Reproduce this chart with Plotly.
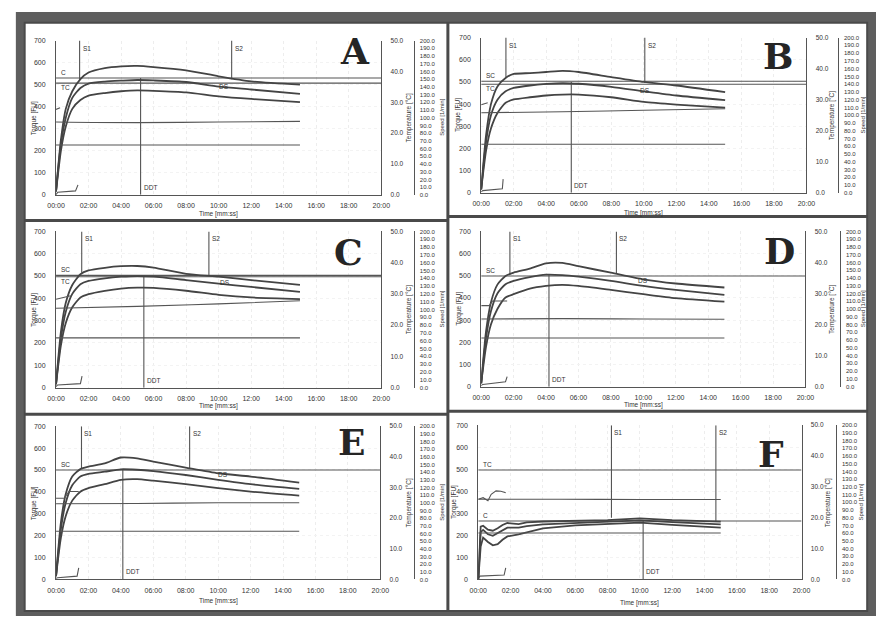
import plotly.graph_objects as go

W, H = 885, 621

# ---------------- data ----------------
T = [0, 0.3, 0.6, 1, 1.5, 2, 3, 4, 5, 6, 8, 10, 12, 15]
F_T = [0, 0.15, 0.3, 0.6, 0.9, 1.2, 1.5, 1.8, 2.5, 3, 4, 6, 8, 10, 12, 15]
TEMP_T = [0, 5, 10, 15]
SPEED_T = [0, 15]
REF_T = [0, 20]

A_UPPER = [15, 250, 390, 470, 525, 555, 575, 583, 585, 580, 565, 538, 515, 500]
A_MIDDLE = [15, 230, 350, 440, 485, 505, 514, 518, 521, 519, 512, 491, 478, 458]
A_LOWER = [15, 200, 310, 390, 430, 450, 462, 470, 474, 472, 465, 447, 435, 421]

B_UPPER = [15, 260, 400, 480, 518, 536, 540, 545, 550, 545, 522, 500, 484, 454]
B_MIDDLE = [15, 230, 350, 420, 458, 473, 484, 491, 495, 492, 478, 458, 439, 418]
B_LOWER = [15, 190, 290, 360, 406, 421, 431, 439, 443, 443, 431, 410, 398, 384]

C_UPPER = [15, 250, 380, 460, 508, 525, 537, 544, 545, 538, 510, 497, 482, 460]
C_MIDDLE = [15, 220, 340, 420, 463, 478, 490, 497, 500, 497, 482, 466, 451, 429]
C_LOWER = [15, 190, 290, 360, 404, 419, 434, 444, 448, 447, 434, 416, 404, 397]

D_UPPER = [15, 250, 380, 460, 499, 514, 532, 556, 558, 543, 514, 484, 465, 447]
D_MIDDLE = [15, 220, 340, 420, 462, 477, 494, 505, 503, 496, 477, 454, 436, 414]
D_LOWER = [15, 180, 280, 350, 402, 417, 442, 454, 459, 454, 436, 417, 399, 383]

E_UPPER = [15, 260, 390, 470, 504, 515, 530, 557, 553, 538, 511, 485, 470, 442]
E_MIDDLE = [15, 230, 350, 430, 470, 482, 492, 503, 501, 495, 477, 455, 435, 414]
E_LOWER = [15, 190, 290, 360, 401, 417, 435, 455, 458, 451, 435, 417, 401, 383]

F_UPPER = [0, 240, 244, 226, 221, 232, 247, 256, 251, 259, 263, 265, 269, 277, 269, 262]
F_MIDDLE = [0, 215, 225, 205, 198, 210, 222, 235, 235, 242, 250, 257, 262, 268, 260, 250]
F_LOWER = [0, 150, 190, 170, 155, 160, 180, 195, 205, 215, 232, 245, 250, 258, 248, 235]

# temperature traces [°C]
A_TEMP = [23.6, 23.4, 23.6, 23.8]
B_TEMP = [25.8, 26.1, 26.6, 27.1]
C_TEMP = [25.4, 26.0, 26.8, 27.8]
D_TEMP = [21.8, 21.9, 21.8, 21.7]
E_TEMP = [24.7, 24.8, 25.0, 25.0]
F_TEMP = [26.0, 26.0, 25.9, 25.9]

# start of temperature probe traces
A_PROBE_T, A_PROBE = [0, 0.25], [27.7, 28.2]
B_PROBE_T, B_PROBE = [0, 0.4], [28.4, 29.0]
C_PROBE_T, C_PROBE = [0, 0.9], [28.3, 29.4]
D_PROBE_T, D_PROBE = [0, 0.5, 0.7, 1.6], [26.1, 26.1, 27.6, 27.6]
E_PROBE_T, E_PROBE = [0, 0.5, 0.8, 1.4], [26.5, 26.5, 28.7, 28.7]
F_PROBE_T, F_PROBE = [0, 0.3, 0.6, 0.8, 1.1, 1.4, 1.7], [26.0, 26.5, 25.5, 27.6, 28.7, 28.6, 28.1]

# speed traces [1/min]
A_SPEED = [64.6, 64.6]
B_SPEED = [62.6, 62.6]
C_SPEED = [63.7, 63.7]
D_SPEED = [62.6, 62.6]
E_SPEED = [62.9, 62.9]
F_SPEED = [60.3, 60.3]

# water dosing traces [FU]
A_DOSE_T, A_DOSE = [0, 0.1, 1.2, 1.35], [0, 12, 18, 45]
B_DOSE_T, B_DOSE = [0, 0.1, 1.3, 1.35], [5, 10, 18, 62]
C_DOSE_T, C_DOSE = [0, 0.1, 1.5, 1.6], [5, 12, 18, 52]
D_DOSE_T, D_DOSE = [0, 0.1, 1.5, 1.6], [5, 10, 22, 45]
E_DOSE_T, E_DOSE = [0, 0.1, 1.3, 1.4], [5, 8, 15, 53]
F_DOSE_T, F_DOSE = [0, 0.1, 1.6, 1.7], [5, 15, 20, 53]

# horizontal reference lines [FU] and their labels
A_REF, A_REF_LABELS = [530, 507], ["C", "TC"]
B_REF, B_REF_LABELS = [503, 490], ["SC", "TC"]
C_REF, C_REF_LABELS = [503, 497], ["SC", "TC"]
D_REF, D_REF_LABELS = [499], ["SC"]
E_REF, E_REF_LABELS = [500], ["SC"]
F_REF, F_REF_LABELS = [497, 265], ["TC", "C"]

# markers: (label, time [min], top, bottom)
A_MARKS = [("S1", 1.45, 700, 520), ("DDT", 5.2, 530, 0), ("S2", 10.8, 700, 525)]
B_MARKS = [("S1", 1.52, 700, 520), ("DDT", 5.54, 500, 0), ("S2", 10.06, 700, 495)]
C_MARKS = [("S1", 1.58, 700, 515), ("DDT", 5.4, 500, 0), ("S2", 9.4, 700, 500)]
D_MARKS = [("S1", 1.77, 700, 505), ("DDT", 4.18, 508, 0), ("S2", 8.34, 700, 510)]
E_MARKS = [("S1", 1.57, 700, 505), ("DDT", 4.12, 505, 0), ("S2", 8.24, 700, 505)]
F_MARKS = [("S1", 8.24, 700, 280), ("DDT", 10.2, 265, 0), ("S2", 14.7, 700, 262)]

# stability label position (time, torque)
A_DS, B_DS, C_DS, D_DS, E_DS, F_DS = (10.3, 492), (10.1, 462), (10.4, 470), (10.0, 478), (10.3, 478), None

LETTERS = ["A", "B", "C", "D", "E", "F"]
TIME_TICKS = list(range(0, 21, 2))
TIME_LABELS = ["%02d:00" % v for v in TIME_TICKS]
TORQUE_TICKS = list(range(0, 701, 100))
TEMP_TICKS = list(range(0, 51, 10))
SPEED_TICKS = list(range(0, 201, 10))

PANELS = [
    dict(t=T, curves=[A_UPPER, A_MIDDLE, A_LOWER], temp=A_TEMP, probe=(A_PROBE_T, A_PROBE), speed=A_SPEED,
         dose=(A_DOSE_T, A_DOSE), ref=(A_REF, A_REF_LABELS), marks=A_MARKS, ds=A_DS, shape="spline"),
    dict(t=T, curves=[B_UPPER, B_MIDDLE, B_LOWER], temp=B_TEMP, probe=(B_PROBE_T, B_PROBE), speed=B_SPEED,
         dose=(B_DOSE_T, B_DOSE), ref=(B_REF, B_REF_LABELS), marks=B_MARKS, ds=B_DS, shape="spline"),
    dict(t=T, curves=[C_UPPER, C_MIDDLE, C_LOWER], temp=C_TEMP, probe=(C_PROBE_T, C_PROBE), speed=C_SPEED,
         dose=(C_DOSE_T, C_DOSE), ref=(C_REF, C_REF_LABELS), marks=C_MARKS, ds=C_DS, shape="spline"),
    dict(t=T, curves=[D_UPPER, D_MIDDLE, D_LOWER], temp=D_TEMP, probe=(D_PROBE_T, D_PROBE), speed=D_SPEED,
         dose=(D_DOSE_T, D_DOSE), ref=(D_REF, D_REF_LABELS), marks=D_MARKS, ds=D_DS, shape="spline"),
    dict(t=T, curves=[E_UPPER, E_MIDDLE, E_LOWER], temp=E_TEMP, probe=(E_PROBE_T, E_PROBE), speed=E_SPEED,
         dose=(E_DOSE_T, E_DOSE), ref=(E_REF, E_REF_LABELS), marks=E_MARKS, ds=E_DS, shape="spline"),
    dict(t=F_T, curves=[F_UPPER, F_MIDDLE, F_LOWER], temp=F_TEMP, probe=(F_PROBE_T, F_PROBE), speed=F_SPEED,
         dose=(F_DOSE_T, F_DOSE), ref=(F_REF, F_REF_LABELS), marks=F_MARKS, ds=F_DS, shape="linear"),
]

# ---------------- layout geometry (pixels) ----------------
GEOM = [
    dict(x0=48, x1=380, top=37, bot=193, spd=413, letter=(353, 48), ttl_y=212, tq_x=25, tp_x=408, sp_x=442),
    dict(x0=482, x1=814, top=34, bot=191, spd=846, letter=(785, 53), ttl_y=211, tq_x=459, tp_x=840, sp_x=872),
    dict(x0=48, x1=380, top=230, bot=388, spd=413, letter=(347, 251), ttl_y=407, tq_x=25, tp_x=408, sp_x=442),
    dict(x0=482, x1=813, top=230, bot=387, spd=848, letter=(787, 250), ttl_y=406, tq_x=459, tp_x=840, sp_x=872),
    dict(x0=48, x1=379, top=427, bot=582, spd=413, letter=(350, 443), ttl_y=604, tq_x=25, tp_x=408, sp_x=442),
    dict(x0=479, x1=809, top=426, bot=582, spd=844, letter=(778, 455), ttl_y=606, tq_x=455, tp_x=836, sp_x=870),
]

INK = "#333333"
CURVE = "#444444"
LINE = "#555555"
FONT = "Liberation Sans, Arial, sans-serif"


def px(x):
    return x / W


def py(y):
    return 1 - y / H


fig = go.Figure()
layout = dict(width=W, height=H, margin=dict(l=0, r=0, t=0, b=0, pad=0),
              paper_bgcolor="white", plot_bgcolor="rgba(0,0,0,0)", showlegend=False,
              font=dict(family=FONT, size=7, color=INK))
annotations = []
shapes = []


def paper_text(x, y, text, angle=0, font=None):
    return dict(x=px(x), y=py(y), xref="paper", yref="paper", text=text, textangle=angle,
                showarrow=False, xanchor="center", yanchor="middle",
                font=font or dict(size=6.5, color=INK))


# scanned page frame
shapes.append(dict(type="rect", xref="paper", yref="paper", x0=px(7), x1=px(885), y0=py(619), y1=py(8),
                   fillcolor="#5e5e5e", line=dict(width=0), layer="below"))
shapes.append(dict(type="rect", xref="paper", yref="paper", x0=px(16), x1=px(876), y0=py(614), y1=py(19),
                   fillcolor="white", line=dict(color="#4a4a4a", width=2), layer="below"))
for (xa, ya, xb, yb) in [(448, 19, 448, 614), (16, 219, 448, 219), (448, 215, 876, 215),
                         (16, 415, 448, 415), (448, 412, 876, 412)]:
    shapes.append(dict(type="line", xref="paper", yref="paper", x0=px(xa), y0=py(ya), x1=px(xb), y1=py(yb),
                       line=dict(color="#4a4a4a", width=3), layer="below"))

for i, (p, g) in enumerate(zip(PANELS, GEOM)):
    n = i + 1
    xk = "xaxis" if n == 1 else "xaxis%d" % n
    xid = "x" if n == 1 else "x%d" % n
    ytq, ytp, ysp = 3 * i + 1, 3 * i + 2, 3 * i + 3
    yid = lambda k: "y" if k == 1 else "y%d" % k
    yk = lambda k: "yaxis" if k == 1 else "yaxis%d" % k

    layout[xk] = dict(domain=[px(g["x0"]), px(g["x1"])], anchor=yid(ytq), range=[0, 20],
                      tickvals=TIME_TICKS, ticktext=TIME_LABELS, showline=True, linecolor=LINE, linewidth=1,
                      ticks="outside", ticklen=4, tickcolor="rgba(0,0,0,0)",
                      showgrid=True, gridcolor="#ededed", griddash="dot", zeroline=False,
                      tickfont=dict(size=7, color=INK))
    layout[yk(ytq)] = dict(domain=[py(g["bot"]), py(g["top"])], anchor=xid, range=[0, 700],
                           tickvals=TORQUE_TICKS, showline=True, linecolor=LINE, linewidth=1,
                           ticks="outside", ticklen=8, tickcolor="rgba(0,0,0,0)",
                           showgrid=True, gridcolor="#f3f3f3", griddash="dot", zeroline=False,
                           tickfont=dict(size=7, color=INK))
    layout[yk(ytp)] = dict(overlaying=yid(ytq), anchor=xid, side="right", range=[0, 50],
                           tickvals=TEMP_TICKS, ticktext=["%.1f" % v for v in TEMP_TICKS],
                           showline=True, linecolor=LINE, linewidth=1,
                           ticks="outside", ticklen=7, tickcolor="rgba(0,0,0,0)",
                           showgrid=False, zeroline=False, tickfont=dict(size=6.5, color=INK))
    layout[yk(ysp)] = dict(overlaying=yid(ytq), anchor="free", position=px(g["spd"]), side="right",
                           range=[0, 200], tickvals=SPEED_TICKS, ticktext=["%.1f" % v for v in SPEED_TICKS],
                           showline=True, linecolor=LINE, linewidth=1,
                           ticks="outside", ticklen=4, tickcolor="rgba(0,0,0,0)",
                           showgrid=False, zeroline=False, tickfont=dict(size=6, color=INK))

    # reference lines
    refs = list(zip(p["ref"][0], p["ref"][1]))
    for j, (lvl, lab) in enumerate(refs):
        fig.add_trace(go.Scatter(x=REF_T, y=[lvl, lvl], mode="lines", xaxis=xid, yaxis=yid(ytq),
                                 line=dict(color=LINE, width=1.1), hoverinfo="skip"))
        above = (j == 0) or (abs(lvl - refs[0][0]) > 100)
        annotations.append(dict(x=0.2, y=lvl, xref=xid, yref=yid(ytq), text=lab, showarrow=False,
                                xanchor="left", yanchor="bottom" if above else "top",
                                yshift=0 if above else 1, font=dict(size=6.5, color=INK)))
    # temperature + speed
    fig.add_trace(go.Scatter(x=TEMP_T, y=p["temp"], mode="lines", xaxis=xid, yaxis=yid(ytp),
                             line=dict(color=LINE, width=1.1, shape="spline"), hoverinfo="skip"))
    fig.add_trace(go.Scatter(x=p["probe"][0], y=p["probe"][1], mode="lines", xaxis=xid, yaxis=yid(ytp),
                             line=dict(color=LINE, width=1.1), hoverinfo="skip"))
    fig.add_trace(go.Scatter(x=SPEED_T, y=p["speed"], mode="lines", xaxis=xid, yaxis=yid(ysp),
                             line=dict(color=LINE, width=1.1), hoverinfo="skip"))
    # dosing
    fig.add_trace(go.Scatter(x=p["dose"][0], y=p["dose"][1], mode="lines", xaxis=xid, yaxis=yid(ytq),
                             line=dict(color=LINE, width=1.1), hoverinfo="skip"))
    # markers
    for lab, tm, top, bot in p["marks"]:
        fig.add_trace(go.Scatter(x=[tm, tm], y=[top, bot], mode="lines", xaxis=xid, yaxis=yid(ytq),
                                 line=dict(color=LINE, width=1.1), hoverinfo="skip"))
        if lab == "DDT":
            annotations.append(dict(x=tm, y=bot, xref=xid, yref=yid(ytq), text=lab, showarrow=False,
                                    xanchor="left", yanchor="bottom", xshift=1, yshift=2,
                                    font=dict(size=6.5, color=INK)))
        else:
            annotations.append(dict(x=tm, y=top, xref=xid, yref=yid(ytq), text=lab, showarrow=False,
                                    xanchor="left", yanchor="top", xshift=1, yshift=-2,
                                    font=dict(size=6.5, color=INK)))
    if p["ds"]:
        annotations.append(dict(x=p["ds"][0], y=p["ds"][1], xref=xid, yref=yid(ytq), text="DS",
                                showarrow=False, xanchor="center", yanchor="middle",
                                font=dict(size=6.5, color=INK)))
    # torque curves
    for c in p["curves"]:
        fig.add_trace(go.Scatter(x=p["t"], y=c, mode="lines", xaxis=xid, yaxis=yid(ytq),
                                 line=dict(color=CURVE, width=1.8, shape=p["shape"], smoothing=0.6),
                                 hoverinfo="skip"))

    # titles and letter
    mid = (g["top"] + g["bot"]) / 2
    annotations.append(paper_text((g["x0"] + g["x1"]) / 2, g["ttl_y"], "Time [mm:ss]"))
    annotations.append(paper_text(g["tq_x"], mid, "Torque [FU]", -90))
    annotations.append(paper_text(g["tp_x"], mid, "Temperature [°C]", -90))
    annotations.append(paper_text(g["sp_x"], mid, "Speed [1/min]", -90, dict(size=6, color=INK)))
    annotations.append(paper_text(g["letter"][0], g["letter"][1], "<b>%s</b>" % LETTERS[i], 0,
                                  dict(family="DejaVu Serif, serif", size=36, color="#252525")))

layout["annotations"] = annotations
layout["shapes"] = shapes
fig.update_layout(**layout)
fig.write_html("out.html", config={"displayModeBar": False},
               post_script="document.body.style.margin='0px';document.body.style.overflow='hidden';")
